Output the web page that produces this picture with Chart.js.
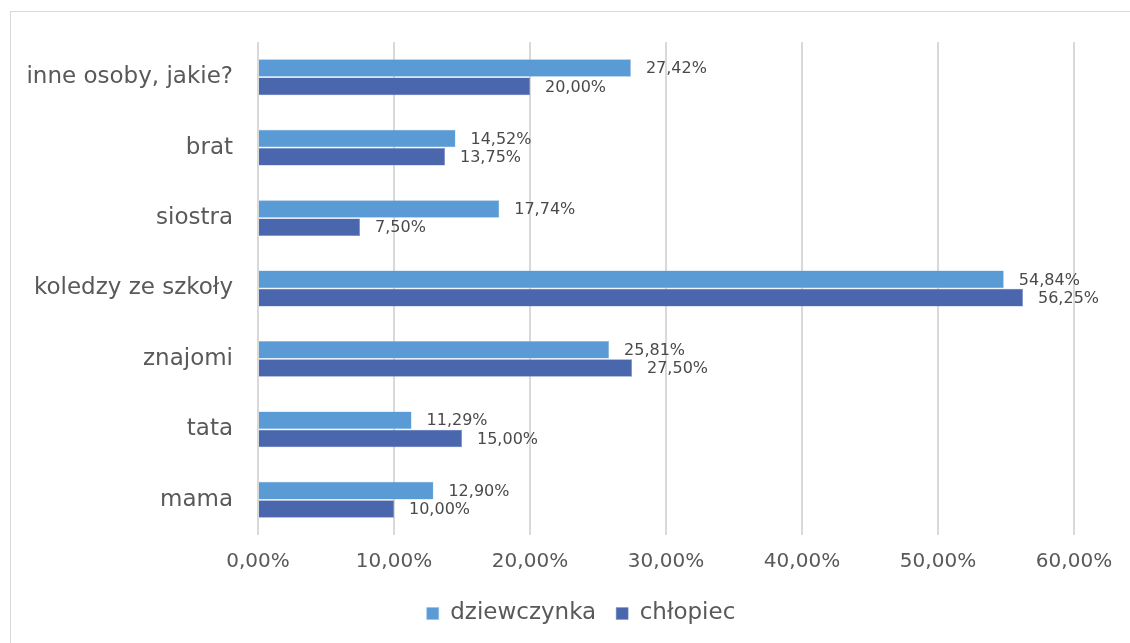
<!DOCTYPE html>
<html>
<head>
<meta charset="utf-8">
<script src="https://cdn.jsdelivr.net/npm/chart.js@4.4.1/dist/chart.umd.min.js"></script>
<style>
  html,body{margin:0;padding:0;background:#fff;overflow:hidden}
  #frame{position:absolute;left:10px;top:11px;width:1140px;height:660px;border:1px solid #d9d9d9;box-sizing:border-box}
  #wrap{position:absolute;left:0;top:0;width:1130px;height:643px}
</style>
</head>
<body>
<div id="frame"></div>
<div id="wrap"><canvas id="c" width="1130" height="643"></canvas></div>
<script>
// ── data ──────────────────────────────────────────────────────────────────
const CATEGORIES = ['inne osoby, jakie?','brat','siostra','koledzy ze szkoły','znajomi','tata','mama'];
const GIRLS = [27.42,14.52,17.74,54.84,25.81,11.29,12.90];
const BOYS  = [20.00,13.75, 7.50,56.25,27.50,15.00,10.00];
const X_TICKS = [0,10,20,30,40,50,60];

const LIGHT='#5B9BD5', DARK='#4A66AC', TXT='#595959', GRID='#d9d9d9';
const FONT='"DejaVu Sans", sans-serif';
const pct=v=>v.toFixed(2).replace('.',',')+'%';

// value labels right of each bar
const barLabels={
  id:'barLabels',
  afterDatasetsDraw(chart){
    const ctx=chart.ctx;
    ctx.save();
    ctx.font='16px '+FONT;
    ctx.fillStyle='#4a4a4a';
    ctx.textAlign='left';
    ctx.textBaseline='middle';
    chart.data.datasets.forEach((ds,di)=>{
      chart.getDatasetMeta(di).data.forEach((bar,i)=>{
        ctx.fillText(pct(ds.data[i]),bar.x+15,bar.y+1);
      });
    });
    ctx.restore();
  }
};

// legend sits centred under the plot area rather than the whole canvas
const legendShift={
  id:'legendShift',
  afterLayout(chart){
    const lg=chart.legend;
    if(lg){ lg.left+=44; lg.right+=44; }
  }
};

new Chart(document.getElementById('c'),{
  type:'bar',
  data:{labels:CATEGORIES,datasets:[
    {label:'dziewczynka',data:GIRLS,backgroundColor:LIGHT,borderColor:'#8fbbe3',borderWidth:0.5,barPercentage:0.96,categoryPercentage:0.52},
    {label:'chłopiec',data:BOYS,backgroundColor:DARK,borderColor:'#7d93c8',borderWidth:0.5,barPercentage:0.96,categoryPercentage:0.52}
  ]},
  options:{
    indexAxis:'y',
    responsive:false,
    animation:false,
    layout:{padding:{left:0,right:56,top:42,bottom:8}},
    plugins:{
      legend:{position:'bottom',labels:{color:TXT,font:{family:FONT,size:23},boxWidth:12,boxHeight:12,padding:20}},
      tooltip:{enabled:false}
    },
    scales:{
      x:{min:0,max:60,
        afterBuildTicks:s=>{s.ticks=X_TICKS.map(v=>({value:v}));},
        afterFit:s=>{s.height=47;},
        grid:{color:GRID,lineWidth:2,drawTicks:false},
        border:{display:false},
        ticks:{color:TXT,font:{family:FONT,size:20},padding:15,callback:v=>pct(v)}},
      y:{
        afterFit:s=>{s.width=258;},
        grid:{display:false,drawTicks:false},
        border:{display:false},
        ticks:{color:TXT,font:{family:FONT,size:23},padding:25}}
    }
  },
  plugins:[barLabels,legendShift]
});
</script>
</body>
</html>
